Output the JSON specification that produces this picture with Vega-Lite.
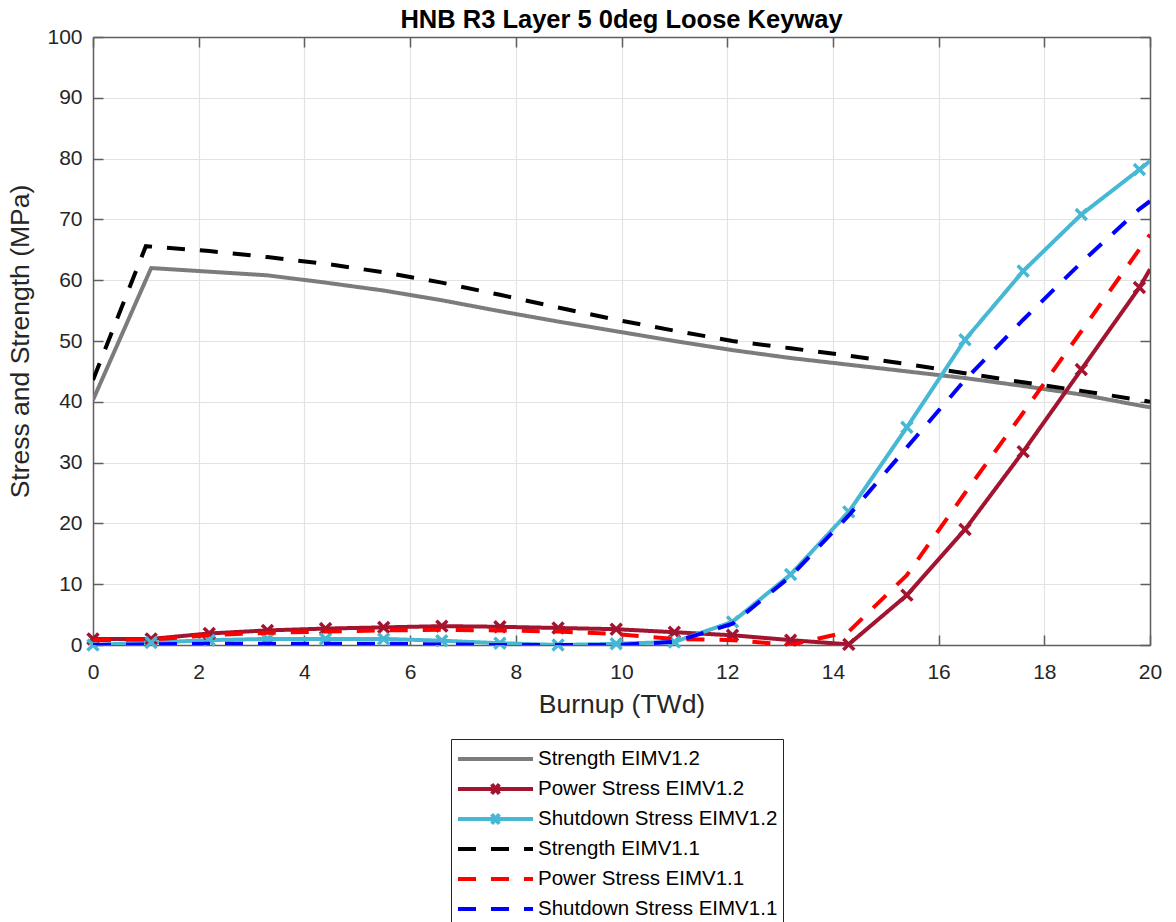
{
  "$schema": "https://vega.github.io/schema/vega-lite/v6.json",
  "width": 1057,
  "height": 608,
  "autosize": {"type": "none"},
  "padding": {"left": 93, "top": 37, "right": 26, "bottom": 277},
  "background": "white",
  "title": {
    "text": "HNB R3 Layer 5 0deg Loose Keyway",
    "font": "Liberation Sans",
    "fontSize": 25.5,
    "fontWeight": "bold",
    "color": "black",
    "anchor": "middle",
    "offset": -7
  },
  "config": {
    "font": "Liberation Sans",
    "view": {"stroke": null},
    "axis": {
      "labelFont": "Liberation Sans",
      "titleFont": "Liberation Sans",
      "labelFontSize": 21,
      "titleFontSize": 26.5,
      "titleFontWeight": "normal",
      "labelColor": "#262626",
      "titleColor": "#262626",
      "domainColor": "#5f5f5f",
      "domainWidth": 1.5,
      "tickColor": "#5f5f5f",
      "tickWidth": 1.5,
      "gridColor": "#e3e3e3",
      "gridWidth": 1.2
    }
  },
  "datasets": {
    "curves": [
      {"burnup": 0, "value": 40.3, "series": "Strength EIMV1.2"},
      {"burnup": 1.1, "value": 62.0, "series": "Strength EIMV1.2"},
      {"burnup": 2.2, "value": 61.4, "series": "Strength EIMV1.2"},
      {"burnup": 3.3, "value": 60.8, "series": "Strength EIMV1.2"},
      {"burnup": 4.4, "value": 59.6, "series": "Strength EIMV1.2"},
      {"burnup": 5.5, "value": 58.3, "series": "Strength EIMV1.2"},
      {"burnup": 6.6, "value": 56.7, "series": "Strength EIMV1.2"},
      {"burnup": 7.7, "value": 54.9, "series": "Strength EIMV1.2"},
      {"burnup": 8.8, "value": 53.2, "series": "Strength EIMV1.2"},
      {"burnup": 9.9, "value": 51.6, "series": "Strength EIMV1.2"},
      {"burnup": 11.0, "value": 50.0, "series": "Strength EIMV1.2"},
      {"burnup": 12.1, "value": 48.5, "series": "Strength EIMV1.2"},
      {"burnup": 13.2, "value": 47.2, "series": "Strength EIMV1.2"},
      {"burnup": 14.3, "value": 46.1, "series": "Strength EIMV1.2"},
      {"burnup": 15.4, "value": 45.0, "series": "Strength EIMV1.2"},
      {"burnup": 16.5, "value": 43.9, "series": "Strength EIMV1.2"},
      {"burnup": 17.6, "value": 42.6, "series": "Strength EIMV1.2"},
      {"burnup": 18.7, "value": 41.2, "series": "Strength EIMV1.2"},
      {"burnup": 19.8, "value": 39.4, "series": "Strength EIMV1.2"},
      {"burnup": 20.0, "value": 39.1, "series": "Strength EIMV1.2"},

      {"burnup": 0, "value": 1.0, "series": "Power Stress EIMV1.2"},
      {"burnup": 1.1, "value": 1.0, "series": "Power Stress EIMV1.2"},
      {"burnup": 2.2, "value": 1.9, "series": "Power Stress EIMV1.2"},
      {"burnup": 3.3, "value": 2.4, "series": "Power Stress EIMV1.2"},
      {"burnup": 4.4, "value": 2.7, "series": "Power Stress EIMV1.2"},
      {"burnup": 5.5, "value": 2.9, "series": "Power Stress EIMV1.2"},
      {"burnup": 6.6, "value": 3.1, "series": "Power Stress EIMV1.2"},
      {"burnup": 7.7, "value": 3.0, "series": "Power Stress EIMV1.2"},
      {"burnup": 8.8, "value": 2.8, "series": "Power Stress EIMV1.2"},
      {"burnup": 9.9, "value": 2.6, "series": "Power Stress EIMV1.2"},
      {"burnup": 11.0, "value": 2.1, "series": "Power Stress EIMV1.2"},
      {"burnup": 12.1, "value": 1.6, "series": "Power Stress EIMV1.2"},
      {"burnup": 13.2, "value": 0.8, "series": "Power Stress EIMV1.2"},
      {"burnup": 14.3, "value": 0.1, "series": "Power Stress EIMV1.2"},
      {"burnup": 15.4, "value": 8.2, "series": "Power Stress EIMV1.2"},
      {"burnup": 16.5, "value": 19.0, "series": "Power Stress EIMV1.2"},
      {"burnup": 17.6, "value": 31.8, "series": "Power Stress EIMV1.2"},
      {"burnup": 18.7, "value": 45.3, "series": "Power Stress EIMV1.2"},
      {"burnup": 19.8, "value": 58.8, "series": "Power Stress EIMV1.2"},
      {"burnup": 20.0, "value": 61.8, "series": "Power Stress EIMV1.2"},

      {"burnup": 0, "value": 0.0, "series": "Shutdown Stress EIMV1.2"},
      {"burnup": 1.1, "value": 0.4, "series": "Shutdown Stress EIMV1.2"},
      {"burnup": 2.2, "value": 0.8, "series": "Shutdown Stress EIMV1.2"},
      {"burnup": 3.3, "value": 1.0, "series": "Shutdown Stress EIMV1.2"},
      {"burnup": 4.4, "value": 1.0, "series": "Shutdown Stress EIMV1.2"},
      {"burnup": 5.5, "value": 1.0, "series": "Shutdown Stress EIMV1.2"},
      {"burnup": 6.6, "value": 0.7, "series": "Shutdown Stress EIMV1.2"},
      {"burnup": 7.7, "value": 0.3, "series": "Shutdown Stress EIMV1.2"},
      {"burnup": 8.8, "value": 0.0, "series": "Shutdown Stress EIMV1.2"},
      {"burnup": 9.9, "value": 0.2, "series": "Shutdown Stress EIMV1.2"},
      {"burnup": 11.0, "value": 0.5, "series": "Shutdown Stress EIMV1.2"},
      {"burnup": 12.1, "value": 3.8, "series": "Shutdown Stress EIMV1.2"},
      {"burnup": 13.2, "value": 11.6, "series": "Shutdown Stress EIMV1.2"},
      {"burnup": 14.3, "value": 21.9, "series": "Shutdown Stress EIMV1.2"},
      {"burnup": 15.4, "value": 35.8, "series": "Shutdown Stress EIMV1.2"},
      {"burnup": 16.5, "value": 50.2, "series": "Shutdown Stress EIMV1.2"},
      {"burnup": 17.6, "value": 61.5, "series": "Shutdown Stress EIMV1.2"},
      {"burnup": 18.7, "value": 70.8, "series": "Shutdown Stress EIMV1.2"},
      {"burnup": 19.8, "value": 78.2, "series": "Shutdown Stress EIMV1.2"},
      {"burnup": 20.0, "value": 79.6, "series": "Shutdown Stress EIMV1.2"},

      {"burnup": 0, "value": 43.6, "series": "Strength EIMV1.1"},
      {"burnup": 1.0, "value": 65.6, "series": "Strength EIMV1.1"},
      {"burnup": 2.2, "value": 64.8, "series": "Strength EIMV1.1"},
      {"burnup": 3.3, "value": 63.8, "series": "Strength EIMV1.1"},
      {"burnup": 4.4, "value": 62.7, "series": "Strength EIMV1.1"},
      {"burnup": 5.5, "value": 61.3, "series": "Strength EIMV1.1"},
      {"burnup": 6.6, "value": 59.6, "series": "Strength EIMV1.1"},
      {"burnup": 7.7, "value": 57.6, "series": "Strength EIMV1.1"},
      {"burnup": 8.8, "value": 55.5, "series": "Strength EIMV1.1"},
      {"burnup": 9.9, "value": 53.5, "series": "Strength EIMV1.1"},
      {"burnup": 11.0, "value": 51.7, "series": "Strength EIMV1.1"},
      {"burnup": 12.1, "value": 50.0, "series": "Strength EIMV1.1"},
      {"burnup": 13.2, "value": 48.8, "series": "Strength EIMV1.1"},
      {"burnup": 14.3, "value": 47.6, "series": "Strength EIMV1.1"},
      {"burnup": 15.4, "value": 46.2, "series": "Strength EIMV1.1"},
      {"burnup": 16.5, "value": 44.7, "series": "Strength EIMV1.1"},
      {"burnup": 17.6, "value": 43.2, "series": "Strength EIMV1.1"},
      {"burnup": 18.7, "value": 41.8, "series": "Strength EIMV1.1"},
      {"burnup": 19.8, "value": 40.3, "series": "Strength EIMV1.1"},
      {"burnup": 20.0, "value": 40.0, "series": "Strength EIMV1.1"},

      {"burnup": 0, "value": 0.8, "series": "Power Stress EIMV1.1"},
      {"burnup": 1.1, "value": 0.9, "series": "Power Stress EIMV1.1"},
      {"burnup": 2.2, "value": 1.6, "series": "Power Stress EIMV1.1"},
      {"burnup": 3.3, "value": 2.0, "series": "Power Stress EIMV1.1"},
      {"burnup": 4.4, "value": 2.2, "series": "Power Stress EIMV1.1"},
      {"burnup": 5.5, "value": 2.4, "series": "Power Stress EIMV1.1"},
      {"burnup": 6.6, "value": 2.5, "series": "Power Stress EIMV1.1"},
      {"burnup": 7.7, "value": 2.4, "series": "Power Stress EIMV1.1"},
      {"burnup": 8.8, "value": 2.2, "series": "Power Stress EIMV1.1"},
      {"burnup": 9.9, "value": 1.8, "series": "Power Stress EIMV1.1"},
      {"burnup": 11.0, "value": 1.0, "series": "Power Stress EIMV1.1"},
      {"burnup": 12.1, "value": 0.8, "series": "Power Stress EIMV1.1"},
      {"burnup": 13.2, "value": 0.0, "series": "Power Stress EIMV1.1"},
      {"burnup": 14.3, "value": 2.2, "series": "Power Stress EIMV1.1"},
      {"burnup": 15.4, "value": 11.5, "series": "Power Stress EIMV1.1"},
      {"burnup": 16.5, "value": 25.0, "series": "Power Stress EIMV1.1"},
      {"burnup": 17.6, "value": 38.2, "series": "Power Stress EIMV1.1"},
      {"burnup": 18.7, "value": 51.6, "series": "Power Stress EIMV1.1"},
      {"burnup": 19.8, "value": 65.1, "series": "Power Stress EIMV1.1"},
      {"burnup": 20.0, "value": 67.5, "series": "Power Stress EIMV1.1"},

      {"burnup": 0, "value": 0.0, "series": "Shutdown Stress EIMV1.1"},
      {"burnup": 1.1, "value": 0.1, "series": "Shutdown Stress EIMV1.1"},
      {"burnup": 2.2, "value": 0.2, "series": "Shutdown Stress EIMV1.1"},
      {"burnup": 3.3, "value": 0.2, "series": "Shutdown Stress EIMV1.1"},
      {"burnup": 4.4, "value": 0.2, "series": "Shutdown Stress EIMV1.1"},
      {"burnup": 5.5, "value": 0.2, "series": "Shutdown Stress EIMV1.1"},
      {"burnup": 6.6, "value": 0.1, "series": "Shutdown Stress EIMV1.1"},
      {"burnup": 7.7, "value": 0.0, "series": "Shutdown Stress EIMV1.1"},
      {"burnup": 8.8, "value": 0.0, "series": "Shutdown Stress EIMV1.1"},
      {"burnup": 9.9, "value": 0.0, "series": "Shutdown Stress EIMV1.1"},
      {"burnup": 11.0, "value": 0.5, "series": "Shutdown Stress EIMV1.1"},
      {"burnup": 12.1, "value": 3.5, "series": "Shutdown Stress EIMV1.1"},
      {"burnup": 13.2, "value": 11.3, "series": "Shutdown Stress EIMV1.1"},
      {"burnup": 14.3, "value": 21.3, "series": "Shutdown Stress EIMV1.1"},
      {"burnup": 15.4, "value": 32.5, "series": "Shutdown Stress EIMV1.1"},
      {"burnup": 16.5, "value": 43.6, "series": "Shutdown Stress EIMV1.1"},
      {"burnup": 17.6, "value": 53.5, "series": "Shutdown Stress EIMV1.1"},
      {"burnup": 18.7, "value": 62.9, "series": "Shutdown Stress EIMV1.1"},
      {"burnup": 19.8, "value": 71.7, "series": "Shutdown Stress EIMV1.1"},
      {"burnup": 20.0, "value": 73.0, "series": "Shutdown Stress EIMV1.1"}
    ]
  },
  "data": {"name": "curves"},
  "layer": [
    {
      "encoding": {
        "x": {
          "field": "burnup",
          "type": "quantitative",
          "scale": {"domain": [0, 20], "nice": false, "zero": false},
          "axis": {
            "title": "Burnup (TWd)",
            "values": [0, 2, 4, 6, 8, 10, 12, 14, 16, 18, 20],
            "tickSize": -10,
            "labelPadding": 26,
            "titlePadding": 9,
            "grid": true,
            "labelFlush": false
          }
        },
        "y": {
          "field": "value",
          "type": "quantitative",
          "scale": {"domain": [0, 100], "nice": false},
          "axis": {
            "title": "Stress and Strength (MPa)",
            "values": [0, 10, 20, 30, 40, 50, 60, 70, 80, 90, 100],
            "tickSize": -10,
            "labelPadding": 21,
            "titlePadding": 12,
            "grid": true,
            "labelFlush": false
          }
        },
        "color": {
          "field": "series",
          "type": "nominal",
          "scale": {
            "domain": ["Strength EIMV1.2", "Power Stress EIMV1.2", "Shutdown Stress EIMV1.2", "Strength EIMV1.1", "Power Stress EIMV1.1", "Shutdown Stress EIMV1.1"],
            "range": ["#7c7c7c", "#a2142f", "#46b8d3", "#000000", "#ff0000", "#0000ff"]
          },
          "legend": {
            "title": null,
            "orient": "none",
            "legendX": 358,
            "legendY": 702,
            "direction": "vertical",
            "fillColor": "white",
            "strokeColor": "#262626",
            "padding": 5,
            "labelFont": "Liberation Sans",
            "labelFontSize": 20.5,
            "labelColor": "black",
            "labelLimit": 400,
            "labelOffset": 3,
            "symbolSize": 5625,
            "symbolStrokeWidth": 4,
            "symbolType": "stroke",
            "clipHeight": 30,
            "rowPadding": 0,
            "encode": {
              "symbols": {
                "update": {
                  "shape": {"signal": "indexof(['Power Stress EIMV1.2', 'Shutdown Stress EIMV1.2'], datum.value) >= 0 ? 'M-1,0H1M-0.1,-0.13L0.1,0.13M-0.1,0.13L0.1,-0.13' : 'M-1,0H1'"}
                }
              }
            }
          }
        },
        "strokeDash": {
          "field": "series",
          "type": "nominal",
          "scale": {
            "domain": ["Strength EIMV1.2", "Power Stress EIMV1.2", "Shutdown Stress EIMV1.2", "Strength EIMV1.1", "Power Stress EIMV1.1", "Shutdown Stress EIMV1.1"],
            "range": [[1, 0], [1, 0], [1, 0], [18, 15], [18, 15], [18, 15]]
          },
          "legend": {
            "title": null,
            "orient": "none",
            "legendX": 358,
            "legendY": 702
          }
        }
      },
      "layer": [
        {
          "transform": [{"filter": "indexof(datum.series, 'EIMV1.2') >= 0"}],
          "mark": {"type": "line", "strokeWidth": 4, "strokeJoin": "round", "clip": true}
        },
        {
          "transform": [
            {"filter": "datum.series === 'Power Stress EIMV1.2' && datum.burnup < 20"}
          ],
          "mark": {
            "type": "point",
            "shape": "M-1,-1L1,1M-1,1L1,-1",
            "size": 120,
            "filled": false,
            "strokeWidth": 3.5,
            "opacity": 1,
            "color": "#a2142f"
          },
          "encoding": {"color": {"value": "#a2142f"}, "strokeDash": {"value": [1, 0]}}
        },
        {
          "transform": [
            {"filter": "datum.series === 'Shutdown Stress EIMV1.2' && datum.burnup < 20"}
          ],
          "mark": {
            "type": "point",
            "shape": "M-1,-1L1,1M-1,1L1,-1",
            "size": 120,
            "filled": false,
            "strokeWidth": 3.5,
            "opacity": 1,
            "color": "#46b8d3"
          },
          "encoding": {"color": {"value": "#46b8d3"}, "strokeDash": {"value": [1, 0]}}
        },
        {
          "transform": [{"filter": "indexof(datum.series, 'EIMV1.1') >= 0"}],
          "mark": {"type": "line", "strokeWidth": 4, "strokeCap": "butt", "clip": true}
        }
      ]
    },
    {
      "mark": {"type": "point", "opacity": 0},
      "encoding": {
        "x": {
          "field": "burnup",
          "type": "quantitative",
          "axis": {
            "orient": "top",
            "title": null,
            "labels": false,
            "grid": false,
            "values": [0, 2, 4, 6, 8, 10, 12, 14, 16, 18, 20],
            "tickSize": -10
          }
        },
        "y": {
          "field": "value",
          "type": "quantitative",
          "axis": {
            "orient": "right",
            "title": null,
            "labels": false,
            "grid": false,
            "values": [0, 10, 20, 30, 40, 50, 60, 70, 80, 90, 100],
            "tickSize": -10
          }
        }
      }
    }
  ],
  "resolve": {"axis": {"x": "independent", "y": "independent"}}
}
